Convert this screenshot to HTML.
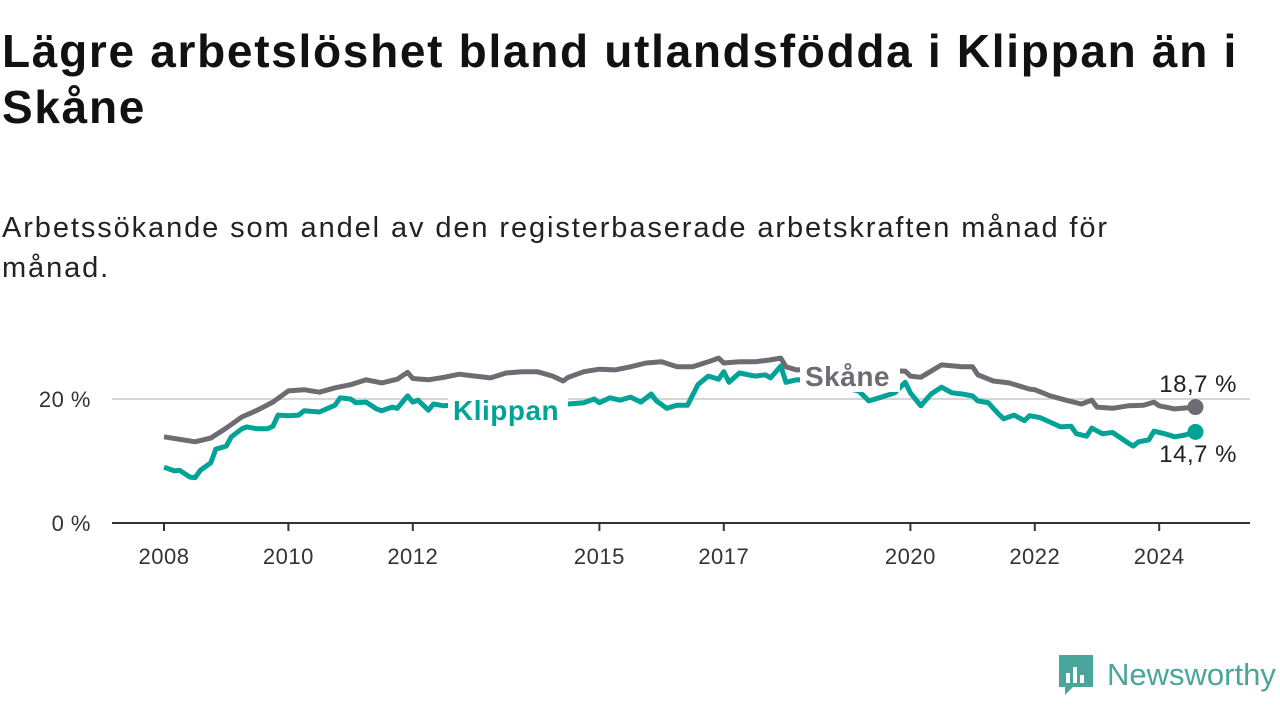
<!DOCTYPE html>
<html><head><meta charset="utf-8"><style>
body{margin:0;width:1280px;height:720px;background:#fff;font-family:"Liberation Sans",sans-serif;overflow:hidden;position:relative}
h1{position:absolute;left:2px;top:23px;margin:0;font-size:46px;line-height:56px;font-weight:bold;color:#111;width:1270px;letter-spacing:1.7px}
.sub{position:absolute;left:2px;top:208px;font-size:29px;line-height:40px;color:#222;width:1190px;letter-spacing:1.9px}
svg{position:absolute;left:0;top:0}
</style></head><body>
<h1>Lägre arbetslöshet bland utlandsfödda i Klippan än i Skåne</h1>
<div class="sub">Arbetssökande som andel av den registerbaserade arbetskraften månad för månad.</div>
<svg id="c" width="1280" height="720"></svg>
<script>
const skaneMonths=[0,3,6,9,12,15,18,21,24,27,30,33,36,39,42,45,47,48,51,54,57,60,63,66,69,72,75,77,78,81,84,87,90,93,96,99,102,105,107,108,111,114,117,119,120,122,126,134,143,144,146,150,154,156,157,160,163,167,168,171,174,177,179,180,183,186,189,191,192,195,199];
const skaneValues=[13.9,13.5,13.1,13.7,15.3,17.1,18.2,19.5,21.3,21.5,21.1,21.8,22.3,23.1,22.6,23.2,24.3,23.3,23.1,23.5,24.0,23.7,23.4,24.2,24.4,24.4,23.7,22.9,23.5,24.4,24.8,24.7,25.2,25.8,26.0,25.2,25.2,26.0,26.6,25.8,26.0,26.0,26.3,26.6,25.2,24.7,24.8,24.6,24.5,23.7,23.5,25.5,25.2,25.2,23.9,22.9,22.6,21.6,21.5,20.5,19.8,19.2,19.8,18.7,18.5,18.9,19.0,19.5,18.9,18.4,18.7];
const klippanMonths=[0,2,3,5,6,7,9,10,12,13,15,16,18,20,21,22,24,26,27,30,33,34,36,37,39,41,42,44,45,46,47,48,49,51,52,54,60,70,78,81,83,84,86,88,90,92,94,95,97,99,101,103,105,107,108,109,111,114,116,117,119,120,122,124,130,134,136,138,141,143,144,146,148,150,152,154,156,157,159,161,162,164,166,167,169,173,175,176,178,179,181,183,186,187,188,190,191,193,195,197,199];
const klippanValues=[9.0,8.4,8.5,7.4,7.3,8.5,9.7,11.9,12.4,13.9,15.2,15.5,15.2,15.2,15.6,17.4,17.3,17.4,18.1,17.9,19.0,20.2,20.0,19.4,19.5,18.4,18.1,18.7,18.5,19.5,20.5,19.5,19.8,18.2,19.2,18.9,19.3,19.1,19.2,19.4,20.0,19.4,20.2,19.8,20.3,19.5,20.8,19.7,18.5,19.0,19.0,22.3,23.7,23.2,24.4,22.7,24.2,23.7,23.9,23.4,25.3,22.7,23.1,23.0,22.0,21.3,19.7,20.2,21.0,22.7,21.0,18.9,20.8,21.9,21.0,20.8,20.5,19.7,19.4,17.6,16.8,17.4,16.5,17.3,17.0,15.5,15.6,14.4,14.0,15.3,14.4,14.6,12.9,12.4,13.1,13.4,14.8,14.4,13.9,14.2,14.7];
const yTicks=[0,20];
const xTickYears=[2008,2010,2012,2015,2017,2020,2022,2024];
const NS="http://www.w3.org/2000/svg";
const svg=document.getElementById('c');
const X=m=>164+m*62.2/12;
const Y=v=>523-v*6.2;
function el(t,a,txt){const e=document.createElementNS(NS,t);for(const k in a)e.setAttribute(k,a[k]);if(txt!==undefined)e.textContent=txt;svg.appendChild(e);return e;}
yTicks.forEach(v=>{
 if(v>0){const g=el('line',{x1:112,x2:1250,y1:Y(v),y2:Y(v),stroke:'#d6d6d6','stroke-width':2});
 
 }
 const t=el('text',{x:91,y:Y(v)+8,'text-anchor':'end','font-size':22,'letter-spacing':0.5,fill:'#333','font-family':'Liberation Sans'},v+' %');
 
 
});
const ax=el('line',{x1:112,x2:1250,y1:523,y2:523,stroke:'#333','stroke-width':2});


xTickYears.forEach(yr=>{
 const x=X((yr-2008)*12);
 const tk=el('line',{x1:x,x2:x,y1:523,y2:531,stroke:'#333','stroke-width':2});
 
 
 const t=el('text',{x:x,y:564,'text-anchor':'middle','font-size':22,'letter-spacing':0.5,fill:'#333','font-family':'Liberation Sans'},String(yr));
 
 
});
function line(ms,vs,color,name){
 const d=ms.map((m,i)=>(i?'L':'M')+X(m).toFixed(1)+','+Y(vs[i]).toFixed(1)).join('');
 const p=el('path',{d:d,fill:'none',stroke:color,'stroke-width':5,'stroke-linejoin':'round'});
 
 
 const n=ms.length-1;
 const c=el('circle',{cx:X(ms[n]),cy:Y(vs[n]),r:8,fill:color});
 
 
}
line(skaneMonths,skaneValues,'#6e6c72','skane-line');
line(klippanMonths,klippanValues,'#00a396','klippan-line');
const r1=el('rect',{x:448,y:390,width:120,height:36,fill:'#fff'});


const r2=el('rect',{x:800,y:356,width:100,height:36,fill:'#fff'});


const l1=el('text',{x:453,y:420,'font-size':28,'letter-spacing':0.5,'font-weight':'bold',fill:'#00a396','font-family':'Liberation Sans'},'Klippan');


const l2=el('text',{x:805,y:386,'font-size':28,'letter-spacing':0.5,'font-weight':'bold',fill:'#6e6c72','font-family':'Liberation Sans'},'Skåne');


const sn=skaneValues.length-1, kn=klippanValues.length-1;
const v1=el('text',{x:1237,y:392,'text-anchor':'end','font-size':24,'letter-spacing':0.5,fill:'#222','font-family':'Liberation Sans'},skaneValues[sn].toFixed(1).replace('.',',')+' %');


const v2=el('text',{x:1237,y:462,'text-anchor':'end','font-size':24,'letter-spacing':0.5,fill:'#222','font-family':'Liberation Sans'},klippanValues[kn].toFixed(1).replace('.',',')+' %');


</script>
<div style="position:absolute;left:1059px;top:655px;display:flex;align-items:center">
 <svg width="34" height="40" viewBox="0 0 34 40" style="position:static"><path d="M0 0H34V32H14L6 40V32H0Z" fill="#4aa59a"/><rect x="7" y="18" width="4" height="10" fill="#fff"/><rect x="14" y="12" width="4" height="16" fill="#fff"/><rect x="21" y="20" width="4" height="8" fill="#fff"/></svg>
 <span style="font-size:31px;color:#4aa59a;margin-left:14px;font-family:'Liberation Sans',sans-serif">Newsworthy</span>
</div>
</body></html>
